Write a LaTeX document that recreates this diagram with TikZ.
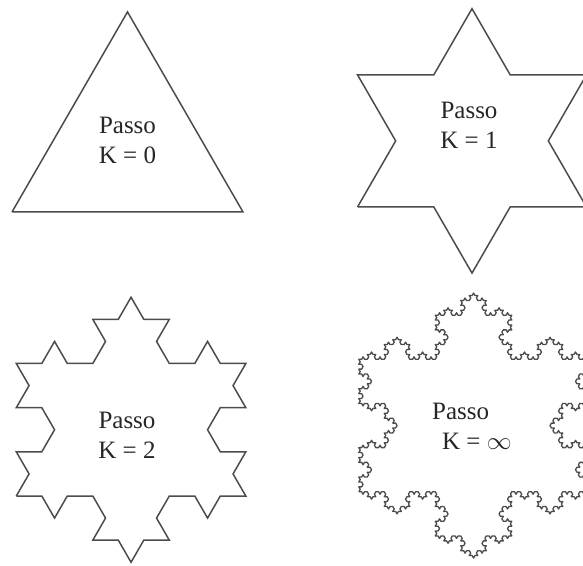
\documentclass[tikz,border=0pt]{standalone}
\usepackage{fontspec}
\setmainfont{Liberation Serif}
\usetikzlibrary{lindenmayersystems}

\pgfdeclarelindenmayersystem{Koch}{\rule{F -> F-F++F-F}}

\begin{document}
\begin{tikzpicture}[x=1pt, y=1pt,
    flake/.style={draw=black!70, line width=1.5pt, line join=miter},
    lbl/.style={font=\fontsize{25}{30}\selectfont, text=black!85,
      align=center, inner sep=0pt}]
    \useasboundingbox (0,0) rectangle (583,565);
    \clip (0,0) rectangle (583,565);
    % step 0
    \begin{scope}[shift={(12,353)}]
      \draw[flake, l-system={Koch, axiom=F++F++F, order=0, step=231pt, angle=60}]
        (0,0) lindenmayer system;
    \end{scope}
    % step 1
    \begin{scope}[shift={(357.5,358)}]
      \draw[flake, l-system={Koch, axiom=F++F++F, order=1, step=76.33pt, angle=60}]
        (0,0) lindenmayer system;
    \end{scope}
    % step 2
    \begin{scope}[shift={(16.3,69)}]
      \draw[flake, l-system={Koch, axiom=F++F++F, order=2, step=25.5pt, angle=60}]
        (0,0) lindenmayer system;
    \end{scope}
    % step infinity
    \begin{scope}[shift={(358.8,73.2)}]
      \draw[flake, line width=1.3pt, line join=round,
        l-system={Koch, axiom=F++F++F, order=4, step=2.833pt, angle=60}]
        (0,0) lindenmayer system;
    \end{scope}
    \node[lbl] (k0) at (127.5,425) {Passo\\K = 0};
    \node[lbl] (k1) at (469,440) {Passo\\K = 1};
    \node[lbl] (k2) at (127,130) {Passo\\K = 2};
    \node[lbl, align=left, anchor=west] (kinf) at (432,139)
      {Passo\\\hspace*{10pt}K = $\infty$};
\end{tikzpicture}
\end{document}
